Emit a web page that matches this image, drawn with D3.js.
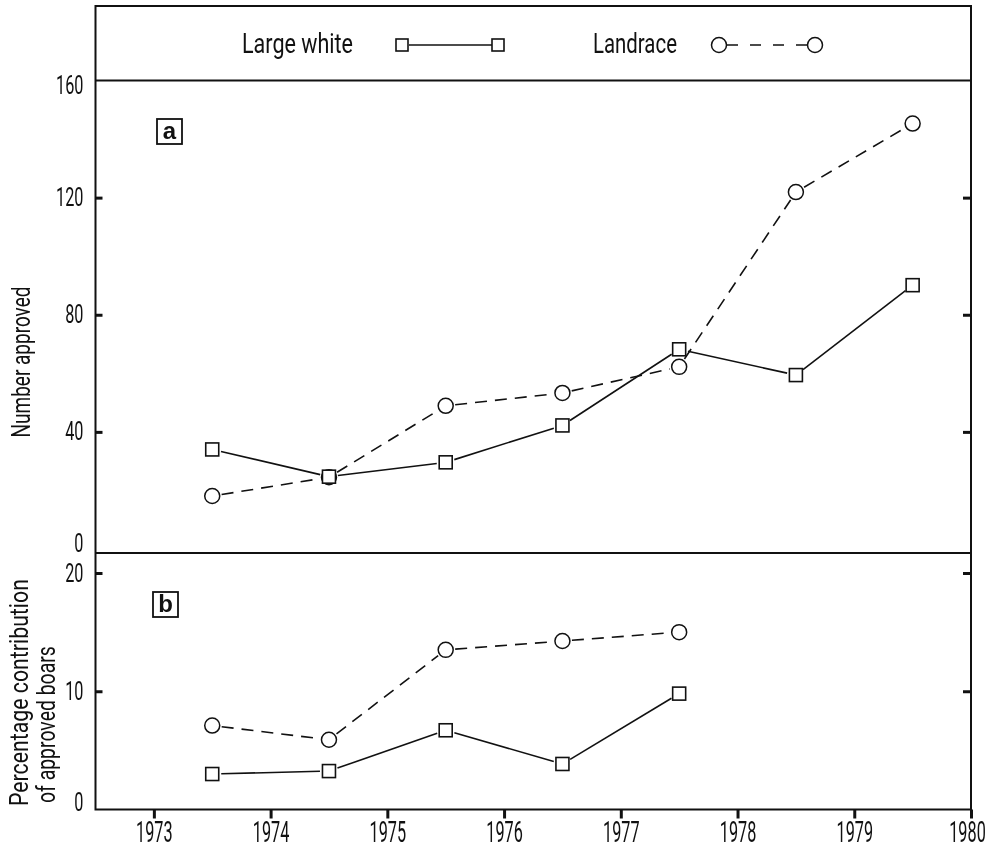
<!DOCTYPE html>
<html><head><meta charset="utf-8">
<script src="https://cdn.jsdelivr.net/npm/d3@7"></script>
<style>
html,body{margin:0;padding:0;background:#fff;}
svg{will-change:transform;}
svg text{font-family:Roboto,"Liberation Sans",sans-serif;font-weight:400;fill:#111;-webkit-font-smoothing:antialiased;}
</style></head>
<body><svg id="c" width="991" height="849"></svg>
<script>
// ---- data ----
const seasons = [1973.5, 1974.5, 1975.5, 1976.5, 1977.5, 1978.5, 1979.5];
const largeWhiteNumber = [34, 24.7, 29.6, 42.2, 68.2, 59.4, 90.1];
const landraceNumber   = [18.1, 24.5, 48.9, 53.3, 62.2, 121.9, 145.3];
const seasonsPct = [1973.5, 1974.5, 1975.5, 1976.5, 1977.5];
const largeWhitePct = [3.0, 3.25, 6.7, 3.85, 9.8];
const landracePct   = [7.1, 5.9, 13.5, 14.25, 15.0];
const yearTicks = [1973, 1974, 1975, 1976, 1977, 1978, 1979, 1980];
const yTicksA = [0, 40, 80, 120, 160];
const yTicksB = [0, 10, 20];
const seriesNames = ["Large white", "Landrace"];

// ---- layout ----
const svg = d3.select("#c");
const L = 95.5, R = 971, TOP = 6, BOT = 809.5, DIV = 553;
const x = d3.scaleLinear().domain([1972.5, 1980]).range([L, R]);
const yA = d3.scaleLinear().domain([0, 160]).range([549, 80.5]);
const yB = d3.scaleLinear().domain([0, 20]).range([809.5, 573]);

// horizontal squeeze of tick texts (condensed look)
function squeeze(sel, f) {
  sel.each(function () {
    const t = d3.select(this);
    const x0 = +(t.attr("x") || 0);
    t.attr("x", x0 / f).attr("transform", `scale(${f},1)`);
  });
}
// squeeze a free text (positioned by a transform) to a target width
function fitTo(sel, w) {
  const node = sel.node();
  const nat = node.getComputedTextLength();
  const base = sel.attr("transform") || "";
  sel.attr("transform", `${base} scale(${w / nat},1)`);
}

// frame
svg.append("rect").attr("x", L).attr("y", TOP).attr("width", R - L).attr("height", BOT - TOP)
  .attr("fill", "none").attr("stroke", "#111").attr("stroke-width", 2);
svg.append("line").attr("x1", L).attr("x2", R).attr("y1", yA(160)).attr("y2", yA(160))
  .attr("stroke", "#111").attr("stroke-width", 2);
svg.append("line").attr("x1", L).attr("x2", R).attr("y1", DIV).attr("y2", DIV)
  .attr("stroke", "#111").attr("stroke-width", 2);

function styleAxis(g) {
  g.select(".domain").remove();
  g.selectAll(".tick line").attr("stroke", "#111").attr("stroke-width", 3);
  g.selectAll(".tick text").attr("fill", "#111").attr("font-family", null);
}

// panel a axes
svg.append("g").attr("transform", `translate(${L},0)`)
  .call(d3.axisLeft(yA).tickValues(yTicksA).tickSize(-7).tickPadding(12).tickFormat(d3.format("d")))
  .call(styleAxis)
  .call(g => g.selectAll(".tick").filter(d => d === 0 || d === 160).select("line").remove())
  .call(g => g.selectAll(".tick").filter(d => d === 160).select("text").attr("dy", "0.5em"))
  .call(g => g.selectAll(".tick").filter(d => d === 0).select("text").attr("dy", "0.1em"))
  .call(g => g.selectAll(".tick text").attr("font-size", 25))
  .call(g => squeeze(g.selectAll(".tick text"), 0.65));
svg.append("g").attr("transform", `translate(${R},0)`)
  .call(d3.axisRight(yA).tickValues(yTicksA.slice(1, -1)).tickSize(-8).tickFormat(""))
  .call(styleAxis);

// panel b axes
svg.append("g").attr("transform", `translate(${L},0)`)
  .call(d3.axisLeft(yB).tickValues(yTicksB).tickSize(-7).tickPadding(12).tickFormat(d3.format("d")))
  .call(styleAxis)
  .call(g => g.selectAll(".tick").filter(d => d === 0).select("line").remove())
  .call(g => g.selectAll(".tick").filter(d => d === 0).select("text").attr("dy", "0.05em"))
  .call(g => g.selectAll(".tick text").attr("font-size", 25))
  .call(g => squeeze(g.selectAll(".tick text"), 0.65));
svg.append("g").attr("transform", `translate(${R},0)`)
  .call(d3.axisRight(yB).tickValues(yTicksB.slice(1)).tickSize(-8).tickFormat(""))
  .call(styleAxis);

// bottom axis
svg.append("g").attr("transform", `translate(0,${BOT})`)
  .call(d3.axisBottom(x).tickValues(yearTicks).tickSize(9).tickPadding(3).tickFormat(d => String(d)))
  .call(styleAxis)
  .call(g => g.selectAll(".tick text").attr("font-size", 29))
  .call(g => g.selectAll(".tick").filter(d => d === 1980).select("text").attr("x", -4))
  .call(g => squeeze(g.selectAll(".tick text"), 0.56));

// axis titles
svg.append("text").attr("transform", "translate(30,362) rotate(-90)")
  .attr("text-anchor", "middle").attr("font-size", 25).text("Number approved")
  .call(fitTo, 151);
svg.append("text").attr("transform", "translate(28,806) rotate(-90)")
  .attr("text-anchor", "start").attr("font-size", 26).text("Percentage contribution")
  .call(fitTo, 227);
svg.append("text").attr("transform", "translate(55,803) rotate(-90)")
  .attr("text-anchor", "start").attr("font-size", 26).text("of approved boars")
  .call(fitTo, 157);

// panel labels
function panelLabel(px, py, t) {
  svg.append("rect").attr("x", px).attr("y", py).attr("width", 25).attr("height", 25)
    .attr("fill", "#fff").attr("stroke", "#111").attr("stroke-width", 1.8);
  svg.append("text").attr("x", px + 12.5).attr("y", py + 20).attr("text-anchor", "middle")
    .attr("font-size", 24).style("font-weight", "bold")
    .style("font-family", "'Liberation Sans',Arial,sans-serif").text(t);
}
panelLabel(157, 119, "a");
panelLabel(153, 592, "b");

// series drawing
const SQ = 13, CR = 7.5;
function drawSeries(xs, ys, ysc, kind) {
  const pts = xs.map((d, i) => [x(d), ysc(ys[i])]);
  const gap = kind === "square" ? 9 : 9.5;
  const g = svg.append("g");
  for (let i = 0; i < pts.length - 1; i++) {
    const [x1, y1] = pts[i], [x2, y2] = pts[i + 1];
    const len = Math.hypot(x2 - x1, y2 - y1);
    const ux = (x2 - x1) / len, uy = (y2 - y1) / len;
    g.append("line")
      .attr("x1", x1 + ux * gap).attr("y1", y1 + uy * gap)
      .attr("x2", x2 - ux * gap).attr("y2", y2 - uy * gap)
      .attr("stroke", "#111").attr("stroke-width", 1.6)
      .attr("stroke-dasharray", kind === "circle" ? "12,8" : null);
  }
  if (kind === "square") {
    g.selectAll("rect").data(pts).join("rect")
      .attr("x", d => d[0] - SQ / 2).attr("y", d => d[1] - SQ / 2)
      .attr("width", SQ).attr("height", SQ)
      .attr("fill", "#fff").attr("stroke", "#111").attr("stroke-width", 1.6);
  } else {
    g.selectAll("circle").data(pts).join("circle")
      .attr("cx", d => d[0]).attr("cy", d => d[1]).attr("r", CR)
      .attr("fill", "#fff").attr("stroke", "#111").attr("stroke-width", 1.5);
  }
}
drawSeries(seasons, landraceNumber, yA, "circle");
drawSeries(seasons, largeWhiteNumber, yA, "square");
drawSeries(seasonsPct, landracePct, yB, "circle");
drawSeries(seasonsPct, largeWhitePct, yB, "square");

// legend
const LY = 45;
svg.append("text").attr("transform", `translate(242,${LY + 8})`).attr("font-size", 27).text(seriesNames[0])
  .call(fitTo, 111);
svg.append("line").attr("x1", 409).attr("x2", 492).attr("y1", LY).attr("y2", LY)
  .attr("stroke", "#111").attr("stroke-width", 1.4);
[402, 498].forEach(cx => svg.append("rect").attr("x", cx - 6).attr("y", LY - 6).attr("width", 12).attr("height", 12)
  .attr("fill", "#fff").attr("stroke", "#111").attr("stroke-width", 1.6));
svg.append("text").attr("transform", `translate(593,${LY + 8})`).attr("font-size", 27).text(seriesNames[1])
  .call(fitTo, 84);
svg.append("line").attr("x1", 727).attr("x2", 807).attr("y1", LY).attr("y2", LY)
  .attr("stroke", "#111").attr("stroke-width", 1.4).attr("stroke-dasharray", "11,12");
[719, 815].forEach(cx => svg.append("circle").attr("cx", cx).attr("cy", LY).attr("r", 7.5)
  .attr("fill", "#fff").attr("stroke", "#111").attr("stroke-width", 1.5));
</script></body></html>
